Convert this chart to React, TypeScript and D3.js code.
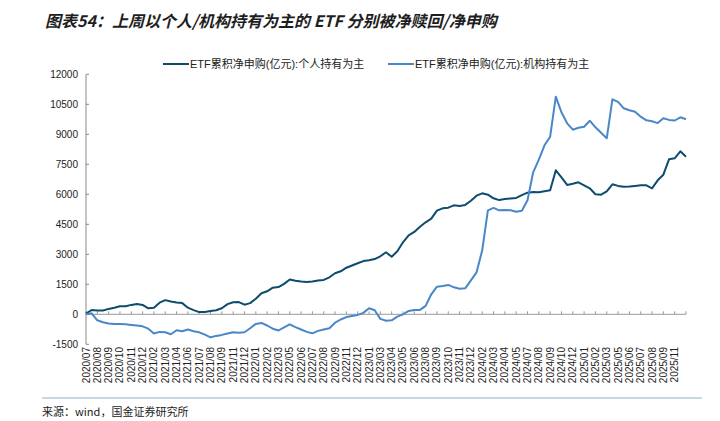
import React from 'react';
import * as d3 from 'd3';

// x-axis labels (one every two data points)
const tickLabels = [
  '2020/07', '2020/08', '2020/09', '2020/10', '2020/11', '2020/12', '2021/02', '2021/03',
  '2021/04', '2021/06', '2021/07', '2021/08', '2021/09', '2021/11', '2021/12', '2022/01',
  '2022/02', '2022/03', '2022/05', '2022/06', '2022/07', '2022/08', '2022/09', '2022/11',
  '2022/12', '2023/01', '2023/03', '2023/04', '2023/05', '2023/06', '2023/08', '2023/09',
  '2023/10', '2023/11', '2023/12', '2024/02', '2024/03', '2024/04', '2024/05', '2024/07',
  '2024/08', '2024/09', '2024/10', '2024/12', '2025/01', '2025/02', '2025/03', '2025/05',
  '2025/06', '2025/07', '2025/08', '2025/09', '2025/11',
];

// 累积净申购(亿元)，个人持有为主
const personal = [
  30, 215, 190, 190, 270, 330, 400, 400, 470, 520,
  470, 300, 330, 580, 710, 640, 590, 560, 330, 210,
  110, 120, 170, 200, 300, 510, 600, 610, 480, 560,
  780, 1050, 1150, 1330, 1360, 1520, 1740, 1680, 1640, 1620,
  1640, 1690, 1720, 1850, 2050, 2150, 2330, 2440, 2550, 2660,
  2700, 2760, 2900, 3100, 2880, 3150, 3600, 3950, 4120, 4380,
  4600, 4780, 5180, 5300, 5330, 5450, 5420, 5470, 5680, 5930,
  6050, 5980, 5800, 5710, 5760, 5790, 5820, 5960, 6080, 6110,
  6100, 6150, 6200, 7200, 6850, 6470, 6530, 6600, 6450, 6300,
  6000, 5980, 6150, 6500, 6420, 6380, 6390, 6420, 6450, 6450,
  6300, 6700, 6980, 7750, 7800, 8150, 7880,
];

// 累积净申购(亿元)，机构持有为主
const institutional = [
  0, 50, -300, -400, -460, -480, -490, -500, -530, -560,
  -600, -720, -960, -880, -900, -1000, -800, -850, -760, -850,
  -900, -1020, -1150, -1080, -1030, -960, -900, -920, -900, -700,
  -480, -430, -560, -720, -810, -650, -500, -640, -760, -880,
  -950, -830, -760, -700, -420, -260, -140, -80, -30, 70,
  300, 200, -230, -320, -300, -120, 0, 170, 210, 220,
  420, 1000, 1380, 1420, 1470, 1350, 1280, 1300, 1700, 2100,
  3200, 5200, 5320, 5200, 5220, 5200, 5130, 5180, 5700, 7100,
  7730, 8450, 8880, 10880, 10100, 9550, 9230, 9330, 9380, 9680,
  9350, 9080, 8800, 10750, 10620, 10300, 10200, 10130, 9880, 9700,
  9650, 9560, 9800, 9720, 9690, 9850, 9750,
];

const yTicks = [-1500, 0, 1500, 3000, 4500, 6000, 7500, 9000, 10500, 12000];

const seriesNames = ['ETF累积净申购(亿元):个人持有为主', 'ETF累积净申购(亿元):机构持有为主'];
const colors = ['#0d4c6e', '#4a87c8'];

const W = 720;
const H = 421;
const FONT = '"Liberation Sans", Arial, "Noto Sans CJK SC", sans-serif';

export default function App() {
  const x = d3.scaleLinear().domain([0, personal.length - 1]).range([86, 686]);
  const y = d3.scaleLinear().domain([-1500, 12000]).range([344.3, 74.3]);

  const line = d3.line<number>()
    .x((_, i) => x(i))
    .y(d => y(d));

  const series = [personal, institutional];

  return (
    <svg width={W} height={H} style={{ position: 'absolute', left: 0, top: 0, background: '#fff' }}
      fontFamily={FONT}>
      {/* title */}
      <text x={45} y={27} fontSize={16} fontWeight="bold" fontStyle="italic" fill="#1e1e1e"
        fontFamily='"Noto Sans CJK SC", "Liberation Sans", sans-serif'>
        图表54：上周以个人/机构持有为主的 ETF 分别被净赎回/净申购
      </text>

      {/* legend */}
      {seriesNames.map((name, i) => {
        const lx = i === 0 ? 163 : 388;
        return (
          <g key={name}>
            <line x1={lx} x2={lx + 26} y1={64} y2={64} stroke={colors[i]} strokeWidth={2} />
            <text x={lx + 27} y={68} fontSize={11} fill="#222">{name}</text>
          </g>
        );
      })}

      {/* y axis */}
      <line x1={86} x2={86} y1={y(12000)} y2={y(-1500)} stroke="#8a8a8a" strokeWidth={1} />
      {yTicks.map(t => (
        <g key={t}>
          <line x1={86} x2={89} y1={y(t)} y2={y(t)} stroke="#8a8a8a" />
          <text x={78} y={y(t)} dy="0.35em" textAnchor="end" fontSize={10} fill="#222">{t}</text>
        </g>
      ))}

      {/* x axis on zero */}
      <line x1={86} x2={686} y1={y(0)} y2={y(0)} stroke="#9a9a9a" strokeWidth={1} />
      {tickLabels.map((lab, i) => {
        const tx = x(i * 2);
        return (
          <g key={lab}>
            <line x1={tx} x2={tx} y1={y(0)} y2={y(0) - 3} stroke="#9a9a9a" />
            <text transform={`translate(${tx},347) rotate(-90)`} dy="0.35em" textAnchor="end"
              fontSize={10} fill="#222">{lab}</text>
          </g>
        );
      })}
      <line x1={686} x2={686} y1={y(0)} y2={y(0) - 3} stroke="#9a9a9a" />

      {/* series */}
      {series.map((s, i) => (
        <path key={i} d={line(s) ?? ''} fill="none" stroke={colors[i]} strokeWidth={2}
          strokeLinejoin="round" />
      ))}

      {/* footer */}
      <line x1={42} x2={702} y1={398} y2={398} stroke="#c8d8e2" strokeWidth={2} />
      <text x={42} y={416} fontSize={11} fill="#222"
        fontFamily='"Noto Sans CJK SC", "DejaVu Sans Mono", monospace'>来源：wind，国金证券研究所</text>
    </svg>
  );
}
